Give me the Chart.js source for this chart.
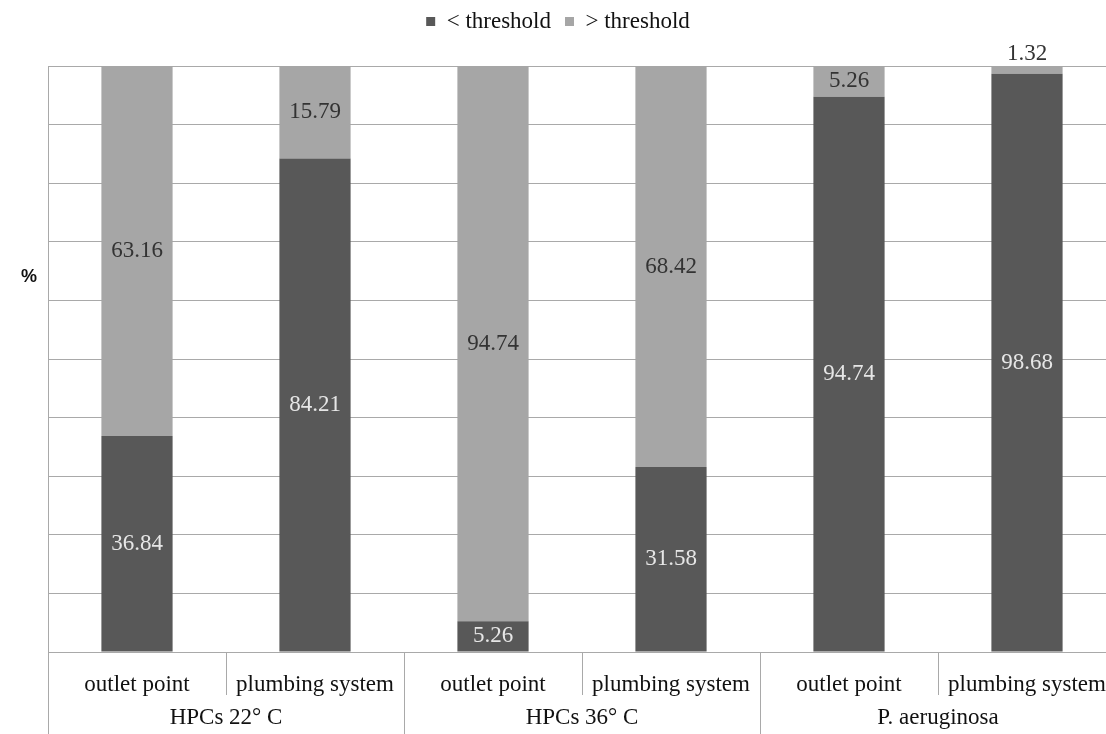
<!DOCTYPE html>
<html>
<head>
<meta charset="utf-8">
<script src="https://cdn.jsdelivr.net/npm/chart.js@4.4.1/dist/chart.umd.min.js"></script>
<style>
  html, body { margin: 0; padding: 0; background: #fff; overflow: hidden; }
  #wrap { width: 1117px; height: 734px; }
</style>
</head>
<body>
<div id="wrap"><canvas id="chart"></canvas></div>
<script>
const categories = ['outlet point', 'plumbing system', 'outlet point', 'plumbing system', 'outlet point', 'plumbing system'];
const groups = ['HPCs 22° C', 'HPCs 36° C', 'P. aeruginosa'];
const belowThreshold = [36.84, 84.21, 5.26, 31.58, 94.74, 98.68];
const aboveThreshold = [63.16, 15.79, 94.74, 68.42, 5.26, 1.32];
const seriesNames = ['< threshold', '> threshold'];

const darkColor = '#585858';
const lightColor = '#a6a6a6';
const lineColor = '#a9a9a9';
const serif = "'Liberation Serif', 'Times New Roman', serif";
const fontSize = 23;

// make legend block tall enough so the plot starts at y=66
const legendHeight = {
  id: 'legendHeight',
  beforeInit(chart) {
    const fit = chart.legend.fit;
    chart.legend.fit = function () {
      fit.call(this);
      this.height = 70;
    };
  }
};

const decorPlugin = {
  id: 'decor',
  afterDraw(chart) {
    const ctx = chart.ctx;
    const area = chart.chartArea;
    const x = chart.scales.x;
    const H = chart.height;
    const n = categories.length;
    const w = (area.right - area.left) / n;
    ctx.save();
    ctx.strokeStyle = lineColor;
    ctx.lineWidth = 1;
    // left border down to bottom
    ctx.beginPath();
    ctx.moveTo(area.left + 0.5, area.top);
    ctx.lineTo(area.left + 0.5, H);
    ctx.stroke();
    // separators between categories
    for (let i = 1; i < n; i++) {
      const px = Math.round(area.left + i * w) + 0.5;
      const isGroup = i % 2 === 0;
      ctx.beginPath();
      ctx.moveTo(px, area.bottom);
      ctx.lineTo(px, isGroup ? H : area.bottom + 43);
      ctx.stroke();
    }
    // group labels
    ctx.fillStyle = '#111';
    ctx.font = fontSize + 'px ' + serif;
    ctx.textAlign = 'center';
    ctx.textBaseline = 'middle';
    groups.forEach((g, i) => {
      const cx = (x.getPixelForValue(i * 2) + x.getPixelForValue(i * 2 + 1)) / 2;
      ctx.fillText(g, cx, area.bottom + 66);
    });
    // y axis title
    ctx.font = 'bold 18px "Liberation Sans", Arial, sans-serif';
    ctx.fillText('%', 29, 277);
    ctx.restore();
  },
  afterDatasetsDraw(chart) {
    const ctx = chart.ctx;
    ctx.save();
    ctx.font = fontSize + 'px ' + serif;
    ctx.textAlign = 'center';
    ctx.textBaseline = 'middle';
    chart.data.datasets.forEach((ds, di) => {
      const meta = chart.getDatasetMeta(di);
      meta.data.forEach((bar, i) => {
        const v = ds.data[i];
        const h = Math.abs(bar.base - bar.y);
        let y = (bar.y + bar.base) / 2;
        let color = di === 0 ? '#e6e6e6' : '#333';
        if (h < 20) {
          y = Math.min(bar.y, bar.base) - 12;
          color = '#333';
        }
        ctx.fillStyle = color;
        ctx.fillText(v.toFixed(2), bar.x, y);
      });
    });
    ctx.restore();
  }
};

new Chart(document.getElementById('chart'), {
  type: 'bar',
  data: {
    labels: categories,
    datasets: [
      { label: seriesNames[0], data: belowThreshold, backgroundColor: darkColor },
      { label: seriesNames[1], data: aboveThreshold, backgroundColor: lightColor }
    ]
  },
  options: {
    responsive: true,
    maintainAspectRatio: false,
    animation: false,
    layout: { padding: { left: 0, right: 1, top: -4, bottom: 0 } },
    datasets: { bar: { categoryPercentage: 1.0, barPercentage: 0.4 } },
    plugins: {
      legend: {
        position: 'top',
        labels: {
          boxWidth: 9,
          boxHeight: 9,
          padding: 14,
          color: '#111',
          font: { family: serif, size: fontSize }
        }
      },
      tooltip: { enabled: false }
    },
    scales: {
      x: {
        stacked: true,
        grid: { display: false },
        border: { display: false },
        ticks: { color: '#111', font: { family: serif, size: fontSize }, padding: 11, maxRotation: 0, autoSkip: false },
        afterFit(scale) { scale.height = 82; }
      },
      y: {
        stacked: true,
        min: 0,
        max: 100,
        ticks: { display: false, stepSize: 10 },
        grid: { color: lineColor, drawTicks: false },
        border: { display: false },
        afterFit(scale) { scale.width = 48; }
      }
    }
  },
  plugins: [legendHeight, decorPlugin]
});
</script>
</body>
</html>
